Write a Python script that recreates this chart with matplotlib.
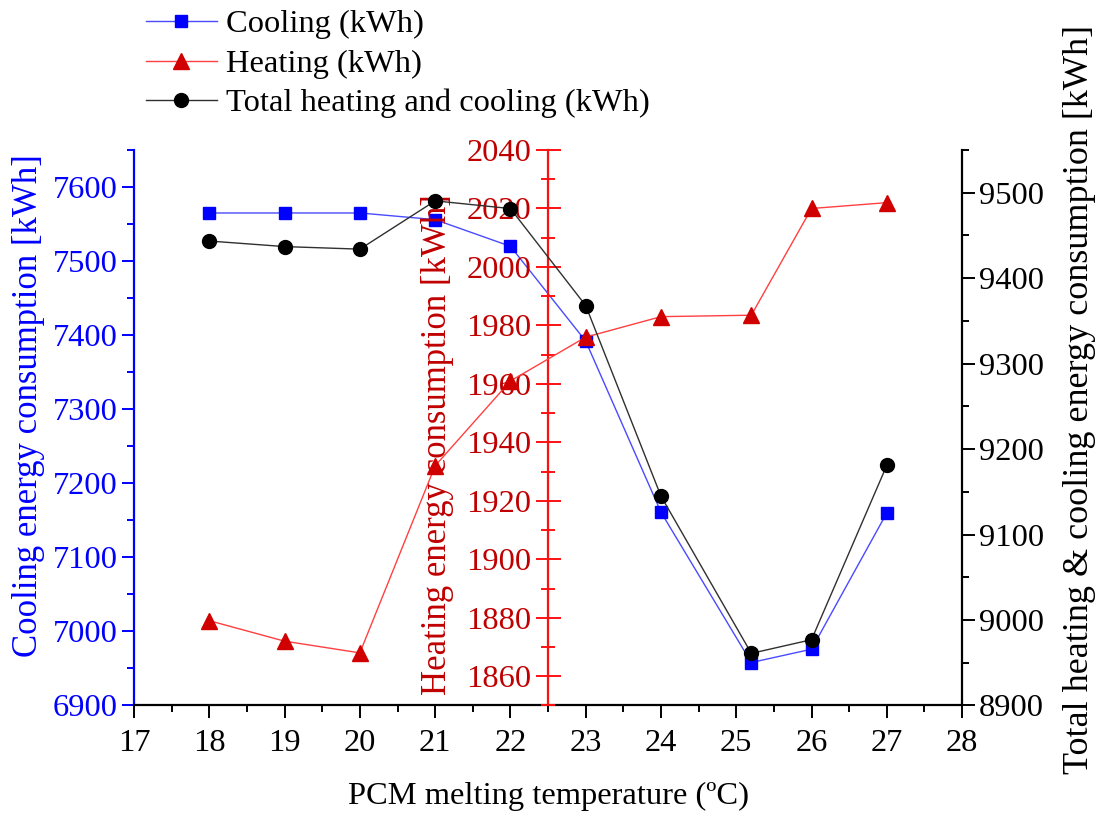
import matplotlib
matplotlib.use("Agg")
import matplotlib.pyplot as plt
from matplotlib.ticker import MultipleLocator

# PCM melting temperature (ºC) and annual energy use
temps = [18, 19, 20, 21, 22, 23, 24, 25.2, 26, 27]
cooling = [7565, 7565, 7565, 7556, 7520, 7392, 7161, 6958, 6976, 7160]
heating = [1879, 1872, 1868, 1932, 1961, 1976, 1983, 1983.5, 2020, 2022]
total = [9443.5, 9437, 9434, 9490.5, 9481.5, 9368, 9145, 8961, 8977, 9181]

BLUE = "#0000ff"
RED = "#d00000"
FS = 23.4      # tick labels, legend, x label
FS_Y = 25      # rotated axis titles

plt.rcParams["font.family"] = ["Liberation Serif", "DejaVu Serif"]
plt.rcParams["font.size"] = FS

fig = plt.figure(figsize=(10.97, 8.14), dpi=100)
ax = fig.add_axes([0.1222, 0.1333, 0.7548, 0.6824])
ax_h = ax.twinx()
ax_t = ax.twinx()

# --- cooling (left, blue) ---
l1, = ax.plot(temps, cooling, color="#4a4aff", lw=1.0, marker="s", ms=9,
              mfc=BLUE, mec=BLUE, label="Cooling (kWh)", zorder=3)
ax.set_xlim(17, 28)
ax.set_ylim(6900, 7650)
ax.xaxis.set_major_locator(MultipleLocator(1))
ax.xaxis.set_minor_locator(MultipleLocator(0.5))
ax.yaxis.set_major_locator(MultipleLocator(100))
ax.yaxis.set_minor_locator(MultipleLocator(50))
ax.tick_params(axis="y", which="both", colors=BLUE, direction="out")
ax.tick_params(axis="y", which="major", length=9, width=1.4, pad=3)
ax.tick_params(axis="y", which="minor", length=5, width=1.4)
ax.tick_params(axis="x", which="major", length=9, width=1.4, direction="out", pad=8)
ax.tick_params(axis="x", which="minor", length=5, width=1.4, direction="out")
ax.spines["left"].set_color(BLUE)
ax.spines["left"].set_linewidth(1.6)
ax.spines["bottom"].set_linewidth(1.6)
ax.spines["top"].set_visible(False)
ax.spines["right"].set_visible(False)
ax.set_ylabel("Cooling energy consumption [kWh]", color=BLUE, fontsize=FS_Y)
ax.yaxis.set_label_coords(-0.108, 0.54)
ax.set_xlabel("PCM melting temperature (ºC)", fontsize=FS, labelpad=17)

# --- heating (middle axis at 22.5, red) ---
l2, = ax_h.plot(temps, heating, color="#ff4040", lw=1.0, marker="^", ms=11,
                mfc=RED, mec=RED, label="Heating (kWh)", zorder=3)
ax_h.set_ylim(1850, 2040)
for side in ["top", "right", "bottom"]:
    ax_h.spines[side].set_visible(False)
ax_h.spines["left"].set_visible(True)
ax_h.spines["left"].set_position(("axes", 0.5))
ax_h.spines["left"].set_color("#ff1010")
ax_h.spines["left"].set_linewidth(1.6)
ax_h.yaxis.set_ticks_position("left")
ax_h.yaxis.set_label_position("left")
ax_h.yaxis.set_major_locator(MultipleLocator(20))
ax_h.yaxis.set_minor_locator(MultipleLocator(10))
ax_h.tick_params(axis="y", which="both", direction="inout", colors="#ff1010",
                 labelcolor="#c00000")
ax_h.tick_params(axis="y", which="major", length=18, width=1.4, pad=3)
ax_h.tick_params(axis="y", which="minor", length=10, width=1.4)
ax_h.set_ylabel("Heating energy consumption [kWh]", color="#c00000", fontsize=FS_Y)
ax_h.yaxis.set_label_coords(0.386, 0.47)

# --- total (right, black) ---
l3, = ax_t.plot(temps, total, color="#303030", lw=1.0, marker="o", ms=10,
                mfc="black", mec="black", label="Total heating and cooling (kWh)",
                zorder=4)
ax_t.set_ylim(8900, 9550)
ax_t.yaxis.set_major_locator(MultipleLocator(100))
ax_t.yaxis.set_minor_locator(MultipleLocator(50))
ax_t.tick_params(axis="y", which="major", length=9, width=1.4, direction="out", pad=3)
ax_t.tick_params(axis="y", which="minor", length=5, width=1.4, direction="out")
for side in ["top", "left", "bottom"]:
    ax_t.spines[side].set_visible(False)
ax_t.spines["right"].set_linewidth(1.6)
ax_t.set_ylabel("Total heating & cooling energy consumption [kWh]", fontsize=26)
ax_t.yaxis.set_label_coords(1.122, 0.55)

fig.legend(handles=[l1, l2, l3], loc="upper left", bbox_to_anchor=(0.115, 1.012),
           frameon=False, fontsize=FS, handlelength=2.2, handletextpad=0.28,
           labelspacing=0.3, borderpad=0.1)

fig.savefig("out.png", dpi=100)
